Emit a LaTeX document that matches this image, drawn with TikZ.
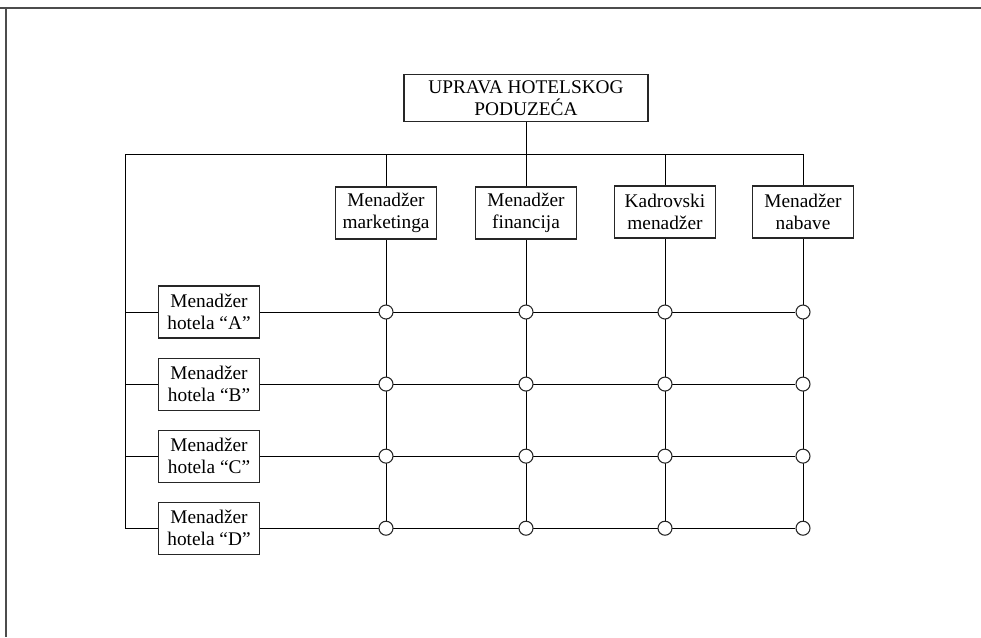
\documentclass[tikz,border=0pt]{standalone}
\usepackage{fontspec}
\setmainfont{Liberation Serif}
\usepackage{tikz}
\usetikzlibrary{positioning}
\usetikzlibrary{backgrounds}
\tikzset{
% frame of the scanned page
frame/.style={line width=1.5pt, draw=black!70}
}

\begin{document}
\begin{tikzpicture}[x=0.75pt, y=-0.75pt, line width=0.8pt, draw=black!85,
  box/.style={rectangle, draw, align=center, inner sep=0, fill=white,
    font=\fontsize{14.5}{16.5}\selectfont,
    minimum width=75.75pt, minimum height=39pt},
  junction/.style={circle, draw, fill=white, inner sep=0, minimum size=10.5pt}]
  \useasboundingbox (0,0) rectangle (981,637);
  \draw[frame] (0,8) -- (981,8);
  \draw[frame] (6,8) -- (6,637);

  \node[box,
    minimum width = 183pt,
    minimum height = 35.25pt] (uprava) at (526,98) {UPRAVA HOTELSKOG\\PODUZEĆA};

  \node[box] (mkt) at (386,213) {Menadžer\\marketinga};
  \node[box] (fin) at (526,213) {Menadžer\\financija};
  \node[box] (kadr) at (665,212) {Kadrovski\\menadžer};
  \node[box] (nab) at (803,212) {Menadžer\\nabave};

  \node[box] (hA) at (209,312) {Menadžer\\hotela “A”};
  \node[box, below=14.25pt of hA] (hB) {Menadžer\\hotela “B”};
  \node[box, below=14.25pt of hB] (hC) {Menadžer\\hotela “C”};
  \node[box, below=14.25pt of hC] (hD) {Menadžer\\hotela “D”};

  % junctions of the matrix
  \foreach \row in {A,B,C,D}
    \foreach \col in {mkt,fin,kadr,nab}
      \node[junction] (j\row-\col) at (\col |- h\row) {};

  \begin{scope}[on background layer]
    \coordinate (busl) at (125,154);
    \draw (uprava.south) -- (fin.north);
    \draw (hD.west -| busl) -- (busl) -| (nab.north);
    \draw (mkt.north |- busl) -- (mkt.north);
    \draw (kadr.north |- busl) -- (kadr.north);
    \foreach \row in {A,B,C,D}
      \draw (h\row.west -| busl) -- (h\row.west);
    \foreach \col in {mkt,fin,kadr,nab}
      \draw (\col.south) -- (jD-\col);
    \foreach \row in {A,B,C,D}
      \draw (h\row.east) -- (j\row-nab);
  \end{scope}
\end{tikzpicture}
\end{document}
